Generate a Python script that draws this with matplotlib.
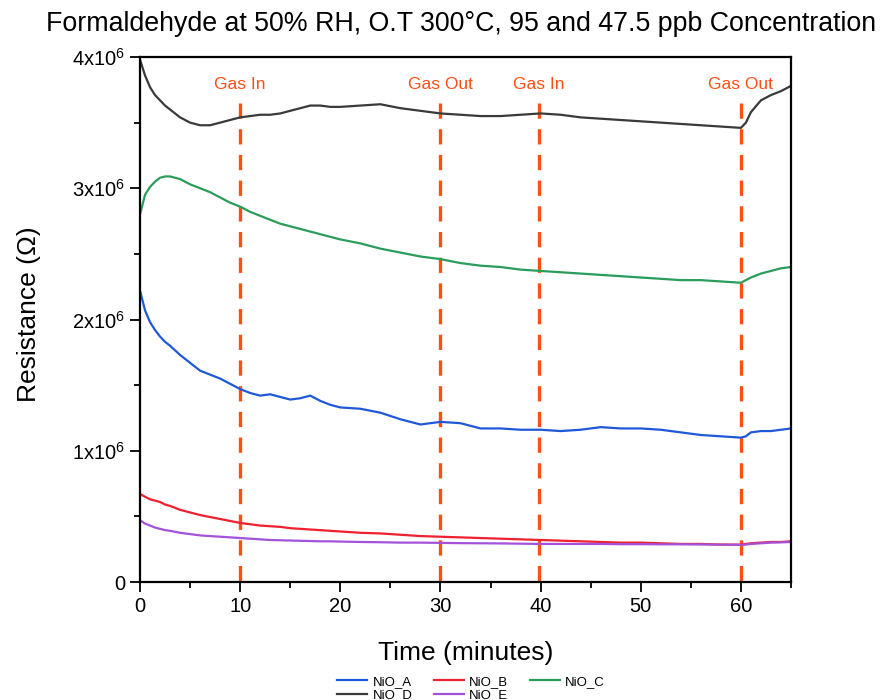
import matplotlib
matplotlib.use("Agg")
import matplotlib.pyplot as plt
from matplotlib.ticker import FixedLocator, FuncFormatter, MultipleLocator

plt.rcParams['font.family'] = ['Liberation Sans', 'DejaVu Sans']
plt.rcParams['mathtext.fontset'] = 'custom'
plt.rcParams['mathtext.rm'] = 'Liberation Sans'
plt.rcParams['lines.scale_dashes'] = False

# Time axis (minutes)
time_min = [0, 0.5, 1, 1.5, 2, 2.5, 3, 4, 5, 6, 7, 8, 9, 10, 11, 12, 13, 14, 15,
            16, 17, 18, 19, 20, 22, 24, 26, 28, 30, 32, 34, 36, 38, 40, 42, 44,
            46, 48, 50, 52, 54, 56, 58, 60, 60.5, 61, 62, 63, 64, 65]

# Resistance in MΩ for each sensor
nio_a = [2.22, 2.07, 1.98, 1.92, 1.87, 1.83, 1.80, 1.73, 1.67, 1.61, 1.58, 1.55,
         1.51, 1.47, 1.44, 1.42, 1.43, 1.41, 1.39, 1.40, 1.42, 1.38, 1.35, 1.33,
         1.32, 1.29, 1.24, 1.20, 1.22, 1.21, 1.17, 1.17, 1.16, 1.16, 1.15, 1.16,
         1.18, 1.17, 1.17, 1.16, 1.14, 1.12, 1.11, 1.10, 1.11, 1.14, 1.15, 1.15,
         1.16, 1.17]
nio_b = [0.67, 0.65, 0.63, 0.62, 0.61, 0.59, 0.58, 0.55, 0.53, 0.51, 0.495, 0.48,
         0.465, 0.45, 0.44, 0.43, 0.425, 0.42, 0.41, 0.405, 0.40, 0.395, 0.39,
         0.385, 0.375, 0.37, 0.36, 0.35, 0.345, 0.34, 0.335, 0.33, 0.325, 0.32,
         0.315, 0.31, 0.305, 0.30, 0.30, 0.295, 0.29, 0.29, 0.285, 0.285, 0.29,
         0.295, 0.30, 0.305, 0.305, 0.31]
nio_c = [2.80, 2.95, 3.01, 3.05, 3.08, 3.09, 3.09, 3.07, 3.03, 3.00, 2.97, 2.93,
         2.89, 2.86, 2.82, 2.79, 2.76, 2.73, 2.71, 2.69, 2.67, 2.65, 2.63, 2.61,
         2.58, 2.54, 2.51, 2.48, 2.46, 2.43, 2.41, 2.40, 2.38, 2.37, 2.36, 2.35,
         2.34, 2.33, 2.32, 2.31, 2.30, 2.30, 2.29, 2.28, 2.30, 2.32, 2.35, 2.37,
         2.39, 2.40]
nio_d = [3.98, 3.86, 3.77, 3.71, 3.67, 3.63, 3.60, 3.54, 3.50, 3.48, 3.48, 3.50,
         3.52, 3.54, 3.55, 3.56, 3.56, 3.57, 3.59, 3.61, 3.63, 3.63, 3.62, 3.62,
         3.63, 3.64, 3.61, 3.59, 3.57, 3.56, 3.55, 3.55, 3.56, 3.57, 3.56, 3.54,
         3.53, 3.52, 3.51, 3.50, 3.49, 3.48, 3.47, 3.46, 3.50, 3.58, 3.67, 3.71,
         3.74, 3.78]
nio_e = [0.47, 0.445, 0.43, 0.415, 0.405, 0.395, 0.39, 0.375, 0.365, 0.355, 0.35,
         0.345, 0.34, 0.335, 0.33, 0.325, 0.32, 0.318, 0.316, 0.314, 0.312, 0.31,
         0.31, 0.308, 0.305, 0.303, 0.30, 0.30, 0.298, 0.296, 0.295, 0.294, 0.292,
         0.29, 0.29, 0.29, 0.29, 0.288, 0.288, 0.287, 0.287, 0.286, 0.285, 0.283,
         0.285, 0.29, 0.295, 0.30, 0.302, 0.305]

series_names = ["NiO_A", "NiO_B", "NiO_C", "NiO_D", "NiO_E"]
series_colors = ["#1f58d8", "#f0202e", "#2a9d5a", "#3a3a3a", "#a352d9"]

# Gas switching events
event_times = [10, 30, 39.8, 60]
event_labels = ["Gas In", "Gas Out", "Gas In", "Gas Out"]
event_color = "#ff4f14"

y_ticks = [0, 1e6, 2e6, 3e6, 4e6]
x_ticks = [0, 10, 20, 30, 40, 50, 60]

fig = plt.figure(figsize=(8.88, 7.0), dpi=100)
ax = fig.add_axes([140 / 888, 118 / 700, 651 / 888, 525 / 700])

handles = []
for name, col, vals in zip(series_names, series_colors,
                           [nio_a, nio_b, nio_c, nio_d, nio_e]):
    h, = ax.plot(time_min, [v * 1e6 for v in vals], color=col, lw=1.6,
                 label=name)
    handles.append(h)

for t, lab in zip(event_times, event_labels):
    ax.plot([t, t], [3.65e6, 0], color=event_color, lw=2.4,
            linestyle=(0, (11, 7.5)), zorder=1)
    ax.text(t, 3.79e6, lab, color=event_color, fontsize=12.5,
            ha='center', va='center')

ax.set_xlim(0, 65)
ax.set_ylim(0, 4e6)
ax.xaxis.set_major_locator(FixedLocator(x_ticks))
ax.xaxis.set_minor_locator(MultipleLocator(5))
ax.yaxis.set_major_locator(FixedLocator(y_ticks))
ax.yaxis.set_minor_locator(MultipleLocator(0.5e6))


def sci_fmt(v, pos):
    if v == 0:
        return "0"
    return r"$\mathregular{%dx10^{6}}$" % round(v / 1e6)


ax.yaxis.set_major_formatter(FuncFormatter(sci_fmt))
ax.tick_params(which='major', direction='out', length=7, width=1.3,
               labelsize=14.5, top=False, right=False)
ax.tick_params(which='minor', direction='out', length=4, width=1.3,
               top=False, right=False)
for sp in ax.spines.values():
    sp.set_linewidth(1.6)

ax.set_xlabel("Time (minutes)", fontsize=19)
ax.set_ylabel("Resistance (Ω)", fontsize=19)
ax.xaxis.set_label_coords(0.5, -0.113)
ax.yaxis.set_label_coords(-0.152, 0.51)

fig.text(461 / 888, 1 - 24 / 700,
         "Formaldehyde at 50% RH, O.T 300°C, 95 and 47.5 ppb Concentration",
         fontsize=19.3, ha='center', va='center')

# row-wise legend order: A B C / D E
order = [0, 3, 1, 4, 2]
fig.legend([handles[i] for i in order], [series_names[i] for i in order],
           loc='upper center', bbox_to_anchor=(471 / 888, 1 - 669 / 700),
           ncol=3, frameon=False, fontsize=9.5, handlelength=2.3,
           handletextpad=0.4, columnspacing=1.6, labelspacing=0.1,
           borderpad=0)

fig.savefig("out.png", dpi=100)
